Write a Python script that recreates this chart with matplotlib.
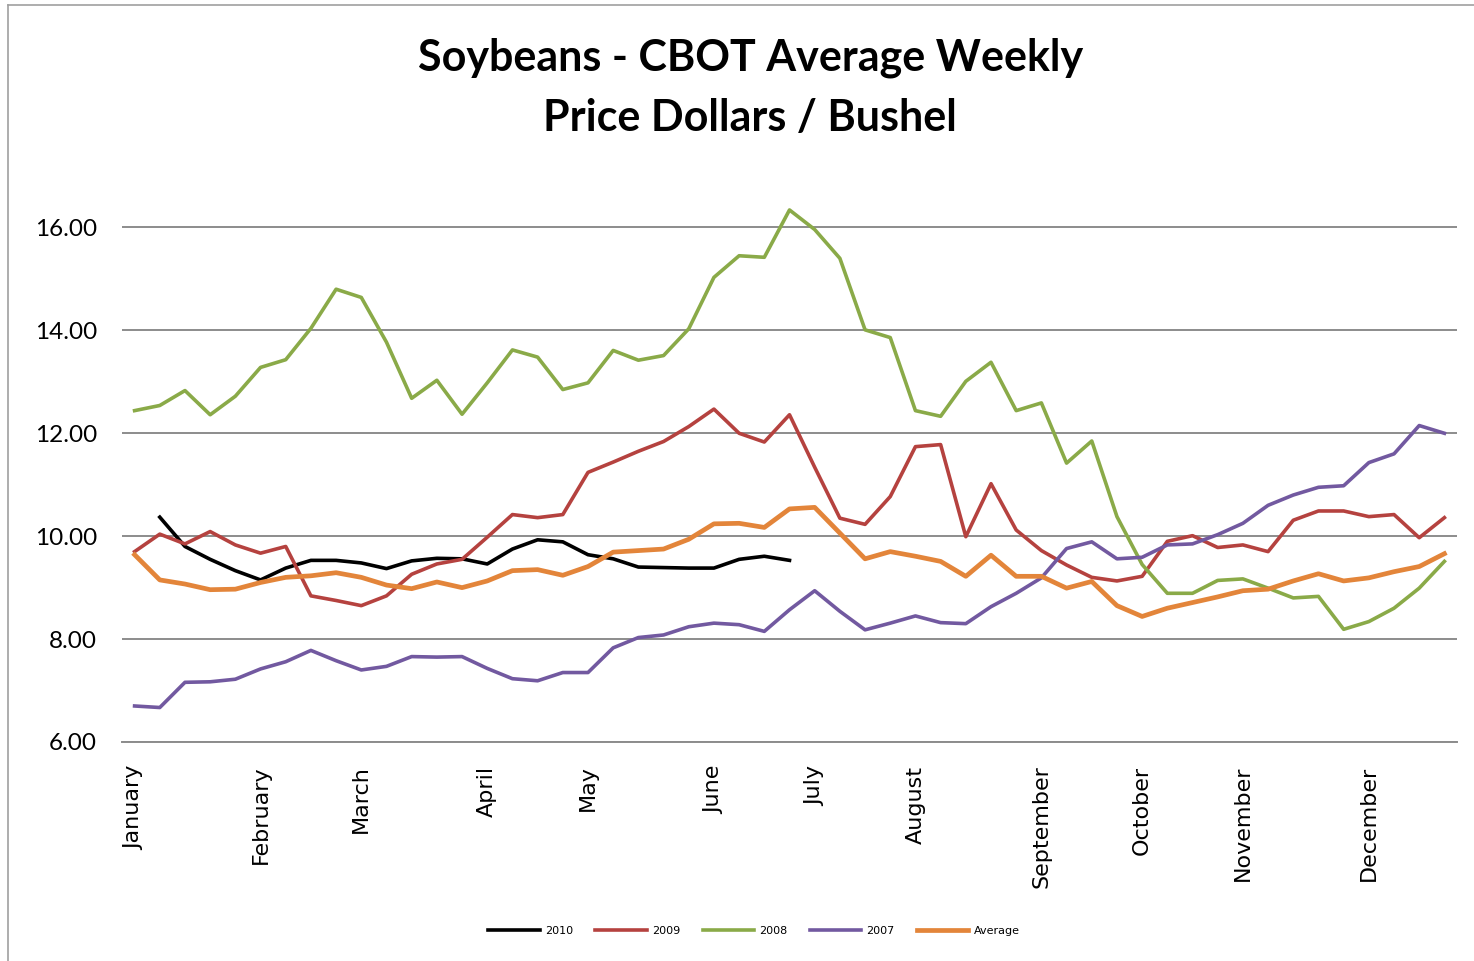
import numpy as np
import matplotlib
matplotlib.use("Agg")
import matplotlib.pyplot as plt
from matplotlib.lines import Line2D

# weekly values, 53 weeks
y2010 = [np.nan, 10.37, 9.80, 9.55, 9.33, 9.15, 9.38, 9.53, 9.53, 9.48,
         9.37, 9.52, 9.57, 9.56, 9.46, 9.75, 9.93, 9.89, 9.64, 9.56,
         9.40, 9.39, 9.38, 9.38, 9.55, 9.61, 9.53]
y2009 = [9.70, 10.04, 9.85, 10.09, 9.83, 9.67, 9.80, 8.84, 8.75, 8.65,
         8.84, 9.26, 9.46, 9.55, 9.98, 10.42, 10.36, 10.42, 11.24, 11.44,
         11.65, 11.84, 12.13, 12.47, 12.00, 11.83, 12.36, 11.34, 10.35, 10.23,
         10.77, 11.74, 11.78, 9.99, 11.02, 10.12, 9.72, 9.44, 9.20, 9.13,
         9.22, 9.90, 10.01, 9.78, 9.83, 9.70, 10.31, 10.49, 10.49, 10.38,
         10.42, 9.97, 10.36]
y2008 = [12.44, 12.54, 12.83, 12.36, 12.72, 13.28, 13.43, 14.04, 14.80, 14.64,
         13.77, 12.68, 13.03, 12.37, 12.98, 13.62, 13.48, 12.85, 12.98, 13.61,
         13.42, 13.51, 14.03, 15.03, 15.45, 15.42, 16.34, 15.96, 15.40, 14.01,
         13.86, 12.44, 12.33, 13.01, 13.38, 12.44, 12.59, 11.42, 11.85, 10.38,
         9.45, 8.89, 8.89, 9.14, 9.17, 8.99, 8.80, 8.83, 8.19, 8.34,
         8.60, 8.99, 9.51]
y2007 = [6.70, 6.67, 7.16, 7.17, 7.22, 7.42, 7.56, 7.78, 7.58, 7.40,
         7.47, 7.66, 7.65, 7.66, 7.43, 7.23, 7.19, 7.35, 7.35, 7.83,
         8.03, 8.08, 8.24, 8.31, 8.28, 8.15, 8.57, 8.94, 8.54, 8.18,
         8.31, 8.45, 8.32, 8.30, 8.63, 8.89, 9.19, 9.76, 9.89, 9.56,
         9.59, 9.83, 9.85, 10.03, 10.25, 10.60, 10.80, 10.95, 10.98, 11.43,
         11.60, 12.15, 12.00]
avg = [9.64, 9.15, 9.07, 8.96, 8.97, 9.10, 9.20, 9.23, 9.29, 9.20,
       9.05, 8.98, 9.11, 9.00, 9.13, 9.33, 9.35, 9.24, 9.41, 9.69,
       9.72, 9.75, 9.94, 10.24, 10.25, 10.17, 10.53, 10.56, 10.06, 9.56,
       9.70, 9.61, 9.51, 9.22, 9.63, 9.22, 9.22, 8.99, 9.12, 8.65,
       8.44, 8.60, 8.71, 8.82, 8.94, 8.97, 9.13, 9.27, 9.13, 9.19,
       9.31, 9.41, 9.66]

months = ["January", "February", "March", "April", "May", "June", "July",
          "August", "September", "October", "November", "December"]
month_week = [0, 5, 9, 14, 18, 23, 27, 31, 36, 40, 44, 49]
yticks = [6, 8, 10, 12, 14, 16]

fig = plt.figure(figsize=(14.74, 9.61), dpi=100)
ax = fig.add_axes([122/1474, 219/961, 1335/1474, 566/961])

ax.plot(np.arange(len(y2010)), y2010, color="#000000", lw=2.6, label="2010")
ax.plot(np.arange(len(y2009)), y2009, color="#B5423F", lw=2.6, label="2009")
ax.plot(np.arange(len(y2008)), y2008, color="#8AAA48", lw=2.6, label="2008")
ax.plot(np.arange(len(y2007)), y2007, color="#7259A0", lw=2.6, label="2007")
ax.plot(np.arange(len(avg)), avg, color="#E3853A", lw=3.4, label="Average")

ax.set_xlim(-0.5, 52.5)
ax.set_ylim(6, 17)
ax.set_yticks(yticks)
ax.set_yticklabels(["%.2f" % v for v in yticks], family="Lato", fontsize=17.5)
ax.set_xticks(month_week)
ax.set_xticklabels(months, rotation=90, va="top", ha="center",
                   family="DejaVu Sans", fontsize=16)
ax.tick_params(length=0)
ax.tick_params(axis="x", pad=17)
ax.tick_params(axis="y", pad=18)
ax.grid(axis="y", color="#8C8C8C", lw=1.4)
ax.set_axisbelow(True)
for s in ["top", "right", "left"]:
    ax.spines[s].set_visible(False)
ax.spines["bottom"].set_color("#8C8C8C")
ax.spines["bottom"].set_linewidth(1.4)

fig.text(0.509, 1 - 38/961, "Soybeans - CBOT Average Weekly\nPrice Dollars / Bushel",
         ha="center", va="top", family="Lato", fontweight="bold", fontsize=31,
         linespacing=1.6)

fig.legend(loc="center", bbox_to_anchor=(0.5115, 1 - 931/961), ncol=5,
           frameon=False, handlelength=4.6, handletextpad=0.5,
           columnspacing=2.0, prop={"family": "DejaVu Sans", "size": 8})

# chart border
fig.add_artist(Line2D([8/1474, 1], [1 - 5/961, 1 - 5/961], color="#A0A0A0", lw=1.2))
fig.add_artist(Line2D([8/1474, 8/1474], [0, 1 - 5/961], color="#A0A0A0", lw=1.2))

fig.savefig("out.png", dpi=100)
